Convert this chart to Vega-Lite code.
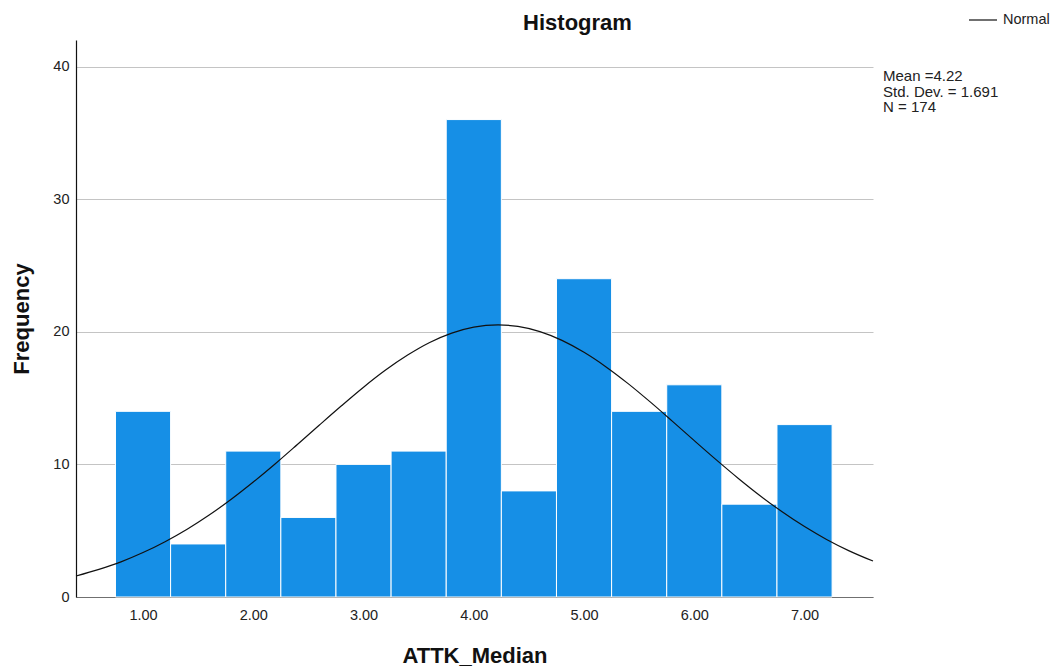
{
  "$schema": "https://vega.github.io/schema/vega-lite/v6.json",
  "autosize": {"type": "none"},
  "padding": {"left": 76, "top": 40, "right": 182, "bottom": 74},
  "width": 797,
  "height": 557,
  "background": "white",
  "title": {
    "text": "Histogram",
    "font": "Liberation Sans",
    "fontSize": 22,
    "fontWeight": "bold",
    "color": "#111111",
    "anchor": "middle",
    "dx": 103,
    "baseline": "bottom",
    "offset": -52
  },
  "config": {
    "view": {"stroke": null},
    "font": "Liberation Sans",
    "axis": {
      "labelFont": "Liberation Sans",
      "titleFont": "Liberation Sans",
      "labelColor": "#222222",
      "titleColor": "#111111",
      "labelFontSize": 14.5,
      "titleFontSize": 22,
      "titleFontWeight": "bold",
      "ticks": false
    }
  },
  "datasets": {
    "bins": [
      {"bin_start": 0.75, "bin_end": 1.25, "frequency": 14},
      {"bin_start": 1.25, "bin_end": 1.75, "frequency": 4},
      {"bin_start": 1.75, "bin_end": 2.25, "frequency": 11},
      {"bin_start": 2.25, "bin_end": 2.75, "frequency": 6},
      {"bin_start": 2.75, "bin_end": 3.25, "frequency": 10},
      {"bin_start": 3.25, "bin_end": 3.75, "frequency": 11},
      {"bin_start": 3.75, "bin_end": 4.25, "frequency": 36},
      {"bin_start": 4.25, "bin_end": 4.75, "frequency": 8},
      {"bin_start": 4.75, "bin_end": 5.25, "frequency": 24},
      {"bin_start": 5.25, "bin_end": 5.75, "frequency": 14},
      {"bin_start": 5.75, "bin_end": 6.25, "frequency": 16},
      {"bin_start": 6.25, "bin_end": 6.75, "frequency": 7},
      {"bin_start": 6.75, "bin_end": 7.25, "frequency": 13}
    ],
    "normal": [
      {"value": 0.392, "density": 1.58},
      {"value": 0.6, "density": 2.08},
      {"value": 0.8, "density": 2.65},
      {"value": 1.0, "density": 3.35},
      {"value": 1.2, "density": 4.17},
      {"value": 1.4, "density": 5.11},
      {"value": 1.6, "density": 6.18},
      {"value": 1.8, "density": 7.37},
      {"value": 2.0, "density": 8.67},
      {"value": 2.2, "density": 10.05},
      {"value": 2.4, "density": 11.5},
      {"value": 2.6, "density": 12.97},
      {"value": 2.8, "density": 14.42},
      {"value": 3.0, "density": 15.82},
      {"value": 3.2, "density": 17.11},
      {"value": 3.4, "density": 18.24},
      {"value": 3.6, "density": 19.19},
      {"value": 3.8, "density": 19.9},
      {"value": 4.0, "density": 20.35},
      {"value": 4.22, "density": 20.52},
      {"value": 4.4, "density": 20.4},
      {"value": 4.6, "density": 20.01},
      {"value": 4.8, "density": 19.35},
      {"value": 5.0, "density": 18.45},
      {"value": 5.2, "density": 17.35},
      {"value": 5.4, "density": 16.09},
      {"value": 5.6, "density": 14.71},
      {"value": 5.8, "density": 13.26},
      {"value": 6.0, "density": 11.79},
      {"value": 6.2, "density": 10.34},
      {"value": 6.4, "density": 8.94},
      {"value": 6.6, "density": 7.62},
      {"value": 6.8, "density": 6.41},
      {"value": 7.0, "density": 5.31},
      {"value": 7.2, "density": 4.34},
      {"value": 7.4, "density": 3.5},
      {"value": 7.621, "density": 2.71}
    ],
    "stats": [
      {"summary": "Mean =4.22\nStd. Dev. = 1.691\nN = 174"}
    ]
  },
  "layer": [
    {
      "data": {"name": "bins"},
      "mark": {"type": "bar", "color": "#168fe6", "stroke": "white", "strokeWidth": 1},
      "encoding": {
        "x": {
          "field": "bin_start",
          "type": "quantitative",
          "scale": {"domain": [0.392, 7.621], "nice": false, "zero": false},
          "axis": {
            "title": "ATTK_Median",
            "values": [1, 2, 3, 4, 5, 6, 7],
            "format": ".2f",
            "grid": false,
            "domainColor": "#707070",
            "domainWidth": 1.2,
            "labelPadding": 11,
            "titlePadding": 24
          }
        },
        "x2": {"field": "bin_end"},
        "y": {
          "field": "frequency",
          "type": "quantitative",
          "scale": {"domain": [0, 42], "nice": false},
          "axis": {
            "title": "Frequency",
            "values": [0, 10, 20, 30, 40],
            "grid": true,
            "gridColor": "#c4c4c4",
            "gridWidth": 1,
            "domainColor": "#111111",
            "domainWidth": 1.2,
            "labelPadding": 7,
            "titlePadding": 19
          }
        },
        "y2": {"datum": 0}
      }
    },
    {
      "data": {"name": "normal"},
      "mark": {"type": "line", "interpolate": "monotone", "strokeWidth": 1.2},
      "encoding": {
        "x": {"field": "value", "type": "quantitative"},
        "y": {"field": "density", "type": "quantitative"},
        "color": {
          "datum": "Normal",
          "type": "nominal",
          "scale": {"range": ["#111111"]},
          "legend": {
            "title": null,
            "orient": "none",
            "legendX": 892,
            "legendY": -35,
            "symbolType": "stroke",
            "symbolSize": 784,
            "symbolStrokeWidth": 1.2,
            "labelFont": "Liberation Sans",
            "labelFontSize": 14.5,
            "labelColor": "#222222",
            "labelOffset": 5
          }
        }
      }
    },
    {
      "data": {"name": "stats"},
      "mark": {
        "type": "text",
        "align": "left",
        "baseline": "alphabetic",
        "lineBreak": "\n",
        "lineHeight": 15.5,
        "font": "Liberation Sans",
        "fontSize": 15,
        "color": "#222222"
      },
      "encoding": {
        "x": {"datum": 7.712},
        "y": {"datum": 38.9},
        "text": {"field": "summary"}
      }
    }
  ]
}
